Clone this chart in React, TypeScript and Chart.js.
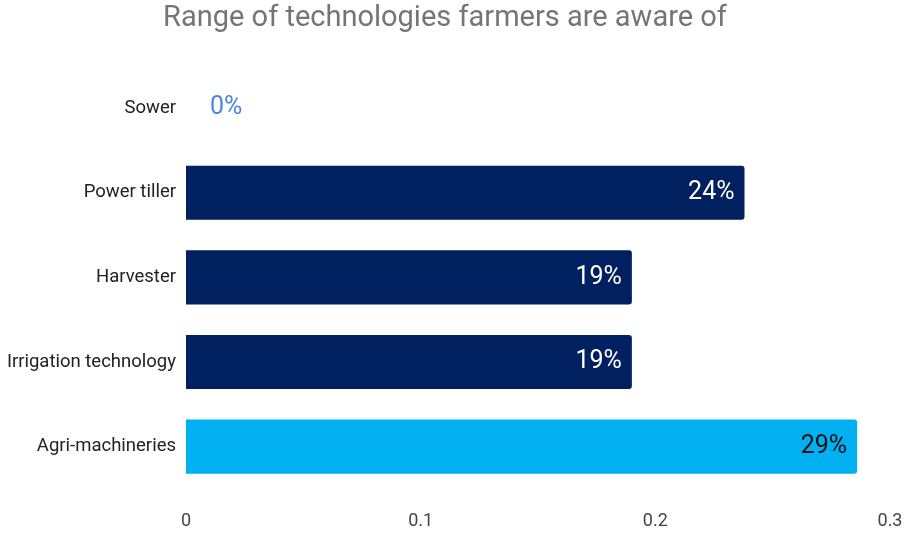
import React, { useEffect, useRef } from "react";
import { Chart, registerables } from "chart.js";

Chart.register(...registerables);

const categories = ["Sower", "Power tiller", "Harvester", "Irrigation technology", "Agri-machineries"];
const values = [0, 0.238, 0.19, 0.19, 0.286];
const labels = ["0%", "24%", "19%", "19%", "29%"];
const barColors = ["#002060", "#002060", "#002060", "#002060", "#00B0F0"];
const labelColors = ["#4A86E8", "#ffffff", "#ffffff", "#ffffff", "#111111"];
const xTicks = [0, 0.1, 0.2, 0.3];

const dataLabelPlugin = {
  id: "dataLabels",
  afterDatasetsDraw(chart: any) {
    const ctx = chart.ctx;
    const meta = chart.getDatasetMeta(0);
    ctx.save();
    ctx.font = "25px Roboto";
    ctx.textBaseline = "middle";
    meta.data.forEach((bar: any, i: number) => {
      ctx.fillStyle = labelColors[i];
      if (values[i] > 0) {
        ctx.textAlign = "right";
        ctx.fillText(labels[i], bar.x - 10, bar.y);
      } else {
        ctx.textAlign = "left";
        ctx.fillText(labels[i], bar.base + 24, bar.y);
      }
    });
    ctx.restore();
  },
};

export default function App() {
  const ref = useRef<HTMLCanvasElement>(null);
  useEffect(() => {
    const chart = new Chart(ref.current!, {
      type: "bar",
      data: {
        labels: categories,
        datasets: [
          {
            data: values,
            backgroundColor: barColors,
            borderRadius: 3,
            borderSkipped: "start",
            categoryPercentage: 1,
            barPercentage: 0.64,
          },
        ],
      },
      options: {
        indexAxis: "y",
        animation: false,
        responsive: true,
        maintainAspectRatio: false,
        layout: { padding: { left: 0, right: 18, top: 0, bottom: 0 } },
        plugins: {
          legend: { display: false },
          tooltip: { enabled: false },
          title: {
            display: true,
            text: "Range of technologies farmers are aware of",
            color: "#757575",
            font: { family: "Roboto", size: 29, weight: "normal" },
            padding: { top: 1, bottom: 30 },
          },
        },
        scales: {
          x: {
            min: 0,
            max: 0.3,
            afterBuildTicks(scale: any) {
              scale.ticks = xTicks.map((v) => ({ value: v }));
            },
            afterFit(scale: any) {
              scale.height = 44;
              scale.paddingRight = 0;
              scale.paddingLeft = 0;
            },
            grid: { display: false, drawTicks: false },
            border: { display: false },
            ticks: {
              color: "#444444",
              font: { family: "Roboto", size: 18 },
              padding: 22,
              maxRotation: 0,
              callback: (v: any) => String(v),
            },
          },
          y: {
            afterFit(scale: any) {
              scale.width = 186;
            },
            grid: { display: false, drawTicks: false },
            border: { display: false },
            ticks: {
              color: "#222222",
              font: { family: "Roboto", size: 18.5 },
              padding: 10,
            },
          },
        },
      },
      plugins: [dataLabelPlugin],
    });
    return () => chart.destroy();
  }, []);
  return (
    <div style={{ position: "absolute", left: 0, top: 0, width: 908, height: 533, background: "#fff" }}>
      <canvas ref={ref} />
    </div>
  );
}
